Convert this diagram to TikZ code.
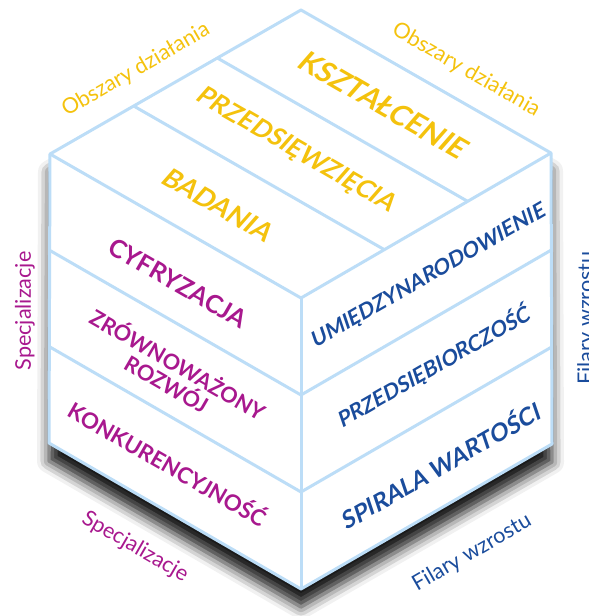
\documentclass[tikz,border=0pt]{standalone}
\usepackage{fontspec}
\setmainfont{Lato}
\newfontfamily\latoslant[FakeSlant=0.2]{Lato}
\usetikzlibrary{calc,shadows.blur}
\definecolor{edgeblue}{HTML}{BCDDF7}
\definecolor{gold}{HTML}{F4C20D}
\definecolor{plum}{HTML}{A8188E}
\definecolor{navy}{HTML}{1A4C9C}
\begin{document}
\begin{tikzpicture}[
  x=0.5pt, y=-0.5pt,
  edge/.style={draw=edgeblue, line width=1.5pt, line join=round},
  toplabel/.style={text=gold, font=\fontsize{#1}{#1}\selectfont\latoslant\bfseries, rotate=-30},
  leftlabel/.style={text=plum, font=\fontsize{#1}{9}\selectfont\bfseries, rotate=-30, align=center},
  rightlabel/.style={text=navy, font=\fontsize{#1}{#1}\selectfont\latoslant\bfseries, rotate=30},
  axis/.style={font=\fontsize{10.8}{12}\selectfont}
]
\useasboundingbox (0,0) rectangle (589,616);

\coordinate (T) at (301,10);
\coordinate (L) at (50,154);
\coordinate (C) at (301,298);
\coordinate (R) at (551,153);
\coordinate (BL) at (49,443);
\coordinate (B) at (301,589);
\coordinate (BR) at (552,444);

\fill[white, blur shadow={shadow xshift=0pt, shadow yshift=-9pt, shadow blur radius=6pt, shadow opacity=90}]
  (T) -- (R) -- (BR) -- (B) -- (BL) -- (L) -- cycle;

\draw[edge] (T) -- (R) -- (BR) -- (B) -- (BL) -- (L) -- cycle;
\draw[edge] (L) -- (C) -- (R);
\draw[edge] (C) -- (B);
\draw[edge] ($(L)!1/3!(T)$) -- ($(C)!1/3!(R)$);
\draw[edge] ($(L)!2/3!(T)$) -- ($(C)!2/3!(R)$);
\draw[edge] ($(L)!1/3!(BL)$) -- ($(C)!1/3!(B)$);
\draw[edge] ($(L)!2/3!(BL)$) -- ($(C)!2/3!(B)$);
\draw[edge] ($(C)!1/3!(B)$) -- ($(R)!1/3!(BR)$);
\draw[edge] ($(C)!2/3!(B)$) -- ($(R)!2/3!(BR)$);

\node[toplabel=13.4] (badania) at (217,204) {BADANIA};
\node[toplabel=12.8] (przedsiewziecia) at (295,150) {PRZEDSIĘWZIĘCIA};
\node[toplabel=14.6] (ksztalcenie) at (382,104) {KSZTAŁCENIE};

\node[leftlabel=12.5] (cyfryzacja) at (178,283) {CYFRYZACJA};
\node[leftlabel=10.8] (rozwoj) at (173,373) {ZRÓWNOWAŻONY\\ROZWÓJ};
\node[leftlabel=11.1] (konkurencyjnosc) at (168,463) {KONKURENCYJNOŚĆ};

\node[rightlabel=10.6] (umiedzynarodowienie) at (428,277) {UMIĘDZYNARODOWIENIE};
\node[rightlabel=10.6] (przedsiebiorczosc) at (433,367) {PRZEDSIĘBIORCZOŚĆ};
\node[rightlabel=11.9] (spirala) at (439,465) {SPIRALA WARTOŚCI};

\node[axis, text=gold, rotate=30] (obszaryL) at (136,70) {Obszary działania};
\node[axis, text=gold, rotate=-30] (obszaryR) at (466,70) {Obszary działania};
\node[axis, text=plum, rotate=90] (specjalizacjeL) at (25,311) {Specjalizacje};
\node[axis, text=plum, rotate=-30] (specjalizacjeB) at (135,547) {Specjalizacje};
\node[axis, text=navy, rotate=30] (filaryB) at (472,553) {Filary wzrostu};
\node[axis, text=navy, rotate=90] (filaryR) at (587,318) {Filary wzrostu};
\end{tikzpicture}
\end{document}
